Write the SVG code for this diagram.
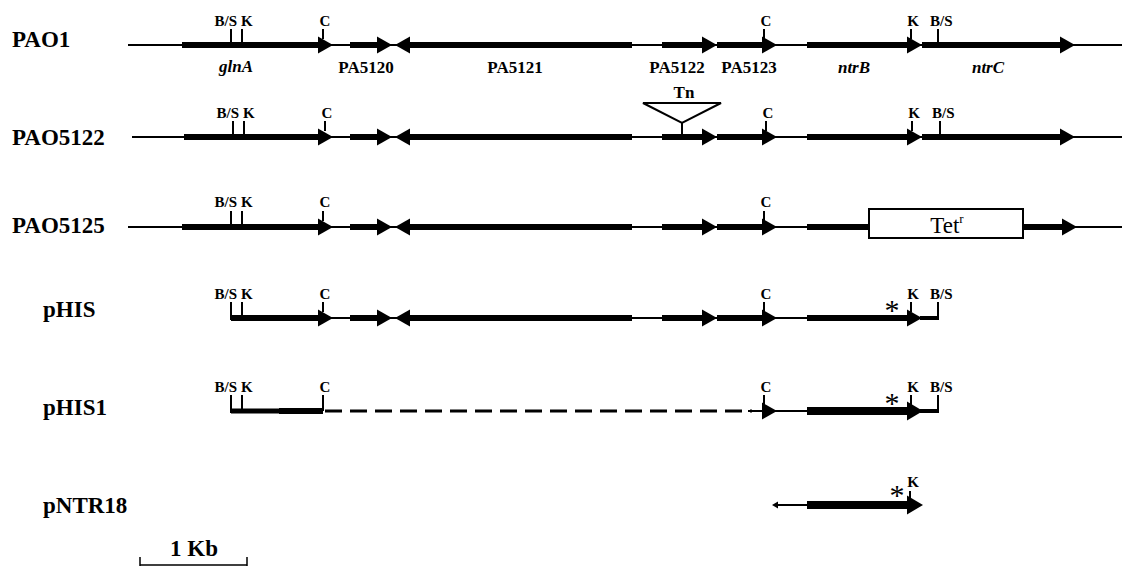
<svg xmlns="http://www.w3.org/2000/svg" xmlns:xlink="http://www.w3.org/1999/xlink" width="1122" height="566" viewBox="0 0 1122 566" font-family="Liberation Serif, Times New Roman, serif">
  <style>
    .thin { stroke: #000; stroke-width: 2; fill: none; }
    .thick { stroke: #000; stroke-width: 6; fill: none; }
    .heavy { stroke: #000; stroke-width: 8; fill: none; }
    .tick { stroke: #000; stroke-width: 2; fill: none; }
    .stub { stroke: #000; stroke-width: 4; fill: none; }
    .mid { stroke: #000; stroke-width: 5; fill: none; }
    .bar { stroke: #000; stroke-width: 1.5; fill: none; }
    .dash { stroke: #000; stroke-width: 3; stroke-dasharray: 17 8; fill: none; }
    .head { fill: #000; stroke: none; }
    .name { font-weight: bold; font-size: 23px; fill: #000; }
    .site { font-weight: bold; font-size: 15px; fill: #000; }
    .gene { font-weight: bold; font-size: 17px; fill: #000; text-anchor: middle; }
    .ital { font-style: italic; }
    .star { font-size: 30px; fill: #000; text-anchor: middle; }
    .tet { font-size: 23px; fill: #000; text-anchor: middle; }
  </style>
  <defs>
    <!-- arrowheads with the tip at the origin -->
    <path id="ar" class="head" d="M0,0 L-15,-8.5 L-15,8.5 Z"/>
    <path id="al" class="head" d="M0,0 L15,-8.5 L15,8.5 Z"/>
    <path id="arBig" class="head" d="M0,0 L-16,-9.5 L-16,9.5 Z"/>
  </defs>

  <rect width="1122" height="566" fill="#fff"/>

  <!-- strain / plasmid names -->
  <g id="names">
    <text class="name" x="12" y="47">PAO1</text>
    <text class="name" x="12" y="145">PAO5122</text>
    <text class="name" x="12" y="233">PAO5125</text>
    <text class="name" x="43" y="317">pHIS</text>
    <text class="name" x="43" y="415">pHIS1</text>
    <text class="name" x="43" y="513">pNTR18</text>
  </g>

  <!-- wild-type chromosome -->
  <g id="PAO1" transform="translate(0,45)">
    <line class="thin" x1="128" y1="0" x2="1122" y2="0"/>
    <line class="thick" x1="182" y1="0" x2="320" y2="0"/><use xlink:href="#ar" x="333" y="0"/>
    <line class="thick" x1="350" y1="0" x2="379" y2="0"/><use xlink:href="#ar" x="392" y="0"/>
    <use xlink:href="#al" x="395" y="0"/><line class="thick" x1="408" y1="0" x2="632" y2="0"/>
    <line class="thick" x1="662" y1="0" x2="704" y2="0"/><use xlink:href="#ar" x="717" y="0"/>
    <line class="thick" x1="717" y1="0" x2="764" y2="0"/><use xlink:href="#ar" x="777" y="0"/>
    <line class="thick" x1="807" y1="0" x2="909" y2="0"/><use xlink:href="#ar" x="922" y="0"/>
    <line class="thick" x1="922" y1="0" x2="1062" y2="0"/><use xlink:href="#ar" x="1075" y="0"/>
    <line class="tick" x1="231" y1="-16" x2="231" y2="0"/>
    <line class="tick" x1="242" y1="-16" x2="242" y2="0"/>
    <line class="tick" x1="323" y1="-16" x2="323" y2="-6"/>
    <line class="tick" x1="764" y1="-16" x2="764" y2="-6"/>
    <line class="tick" x1="911" y1="-16" x2="911" y2="-6"/>
    <line class="tick" x1="938" y1="-16" x2="938" y2="0"/>
    <text class="site" x="237" y="-19" text-anchor="end">B/S</text>
    <text class="site" x="241" y="-19">K</text>
    <text class="site" x="325" y="-19" text-anchor="middle">C</text>
    <text class="site" x="766" y="-19" text-anchor="middle">C</text>
    <text class="site" x="913" y="-19" text-anchor="middle">K</text>
    <text class="site" x="930" y="-19">B/S</text>
    <text class="gene ital" x="236" y="27">glnA</text>
    <text class="gene" x="366" y="28">PA5120</text>
    <text class="gene" x="515" y="28">PA5121</text>
    <text class="gene" x="677" y="28">PA5122</text>
    <text class="gene" x="749" y="28">PA5123</text>
    <text class="gene ital" x="854" y="28">ntrB</text>
    <text class="gene ital" x="988" y="28">ntrC</text>
  </g>

  <!-- transposon insertion in PA5122 -->
  <g id="PAO5122" transform="translate(0,137)">
    <line class="thin" x1="132" y1="0" x2="1122" y2="0"/>
    <line class="thick" x1="184" y1="0" x2="320" y2="0"/><use xlink:href="#ar" x="333" y="0"/>
    <line class="thick" x1="350" y1="0" x2="379" y2="0"/><use xlink:href="#ar" x="392" y="0"/>
    <use xlink:href="#al" x="395" y="0"/><line class="thick" x1="408" y1="0" x2="632" y2="0"/>
    <line class="thick" x1="662" y1="0" x2="704" y2="0"/><use xlink:href="#ar" x="717" y="0"/>
    <line class="thick" x1="717" y1="0" x2="764" y2="0"/><use xlink:href="#ar" x="777" y="0"/>
    <line class="thick" x1="807" y1="0" x2="909" y2="0"/><use xlink:href="#ar" x="922" y="0"/>
    <line class="thick" x1="922" y1="0" x2="1062" y2="0"/><use xlink:href="#ar" x="1075" y="0"/>
    <line class="tick" x1="233" y1="-16" x2="233" y2="0"/>
    <line class="tick" x1="244" y1="-16" x2="244" y2="0"/>
    <line class="tick" x1="325" y1="-16" x2="325" y2="-6"/>
    <line class="tick" x1="766" y1="-16" x2="766" y2="-6"/>
    <line class="tick" x1="912" y1="-16" x2="912" y2="-6"/>
    <line class="tick" x1="940" y1="-16" x2="940" y2="0"/>
    <text class="site" x="239" y="-19" text-anchor="end">B/S</text>
    <text class="site" x="243" y="-19">K</text>
    <text class="site" x="327" y="-19" text-anchor="middle">C</text>
    <text class="site" x="768" y="-19" text-anchor="middle">C</text>
    <text class="site" x="914" y="-19" text-anchor="middle">K</text>
    <text class="site" x="932" y="-19">B/S</text>
    <path class="tick" d="M643,-34 L721,-34 L682,-14 Z M682,-14 L682,0"/>
    <text class="gene" x="684" y="-39">Tn</text>
  </g>

  <!-- tetracycline cassette in ntrB-ntrC -->
  <g id="PAO5125" transform="translate(0,227)">
    <line class="thin" x1="128" y1="0" x2="1122" y2="0"/>
    <line class="thick" x1="182" y1="0" x2="320" y2="0"/><use xlink:href="#ar" x="333" y="0"/>
    <line class="thick" x1="350" y1="0" x2="379" y2="0"/><use xlink:href="#ar" x="392" y="0"/>
    <use xlink:href="#al" x="395" y="0"/><line class="thick" x1="408" y1="0" x2="632" y2="0"/>
    <line class="thick" x1="662" y1="0" x2="704" y2="0"/><use xlink:href="#ar" x="717" y="0"/>
    <line class="thick" x1="717" y1="0" x2="764" y2="0"/><use xlink:href="#ar" x="777" y="0"/>
    <line class="thick" x1="807" y1="0" x2="870" y2="0"/>
    <line class="thick" x1="1022" y1="0" x2="1064" y2="0"/><use xlink:href="#ar" x="1077" y="0"/>
    <rect x="869" y="-18" width="154" height="29" fill="#fff" stroke="#000" stroke-width="2"/>
    <text class="tet" x="947" y="6">Tet<tspan font-size="13" dy="-10">r</tspan></text>
    <line class="tick" x1="231" y1="-16" x2="231" y2="0"/>
    <line class="tick" x1="242" y1="-16" x2="242" y2="0"/>
    <line class="tick" x1="323" y1="-16" x2="323" y2="-6"/>
    <line class="tick" x1="764" y1="-16" x2="764" y2="-6"/>
    <text class="site" x="237" y="-20" text-anchor="end">B/S</text>
    <text class="site" x="241" y="-20">K</text>
    <text class="site" x="325" y="-20" text-anchor="middle">C</text>
    <text class="site" x="766" y="-20" text-anchor="middle">C</text>
  </g>

  <!-- complementing fragment -->
  <g id="pHIS" transform="translate(0,318)">
    <line class="thin" x1="231" y1="0" x2="938" y2="0"/>
    <line class="thick" x1="231" y1="0" x2="320" y2="0"/><use xlink:href="#ar" x="333" y="0"/>
    <line class="thick" x1="350" y1="0" x2="379" y2="0"/><use xlink:href="#ar" x="392" y="0"/>
    <use xlink:href="#al" x="395" y="0"/><line class="thick" x1="408" y1="0" x2="632" y2="0"/>
    <line class="thick" x1="662" y1="0" x2="704" y2="0"/><use xlink:href="#ar" x="717" y="0"/>
    <line class="thick" x1="717" y1="0" x2="764" y2="0"/><use xlink:href="#ar" x="777" y="0"/>
    <line class="thick" x1="807" y1="0" x2="909" y2="0"/><use xlink:href="#ar" x="922" y="0"/>
    <line class="stub" x1="920" y1="0" x2="939" y2="0"/>
    <line class="tick" x1="231" y1="-16" x2="231" y2="2"/>
    <line class="tick" x1="242" y1="-16" x2="242" y2="0"/>
    <line class="tick" x1="323" y1="-16" x2="323" y2="-6"/>
    <line class="tick" x1="764" y1="-16" x2="764" y2="-6"/>
    <line class="tick" x1="911" y1="-16" x2="911" y2="-6"/>
    <line class="tick" x1="938" y1="-16" x2="938" y2="2"/>
    <text class="site" x="237" y="-19" text-anchor="end">B/S</text>
    <text class="site" x="241" y="-19">K</text>
    <text class="site" x="325" y="-19" text-anchor="middle">C</text>
    <text class="site" x="766" y="-19" text-anchor="middle">C</text>
    <text class="site" x="913" y="-19" text-anchor="middle">K</text>
    <text class="site" x="930" y="-19">B/S</text>
    <text class="star" x="892" y="2">*</text>
  </g>

  <!-- deletion derivative -->
  <g id="pHIS1" transform="translate(0,411)">
    <line class="mid" x1="231" y1="0" x2="280" y2="0"/>
    <line class="thick" x1="279" y1="0" x2="323" y2="0"/>
    <line class="dash" x1="325" y1="0" x2="752" y2="0"/>
    <line class="thin" x1="748" y1="0" x2="807" y2="0"/><use xlink:href="#ar" x="777" y="0"/>
    <line class="heavy" x1="807" y1="0" x2="908" y2="0"/><use xlink:href="#arBig" x="923" y="0"/>
    <line class="stub" x1="920" y1="0" x2="939" y2="0"/>
    <line class="tick" x1="231" y1="-16" x2="231" y2="2"/>
    <line class="tick" x1="242" y1="-16" x2="242" y2="0"/>
    <line class="tick" x1="323" y1="-16" x2="323" y2="0"/>
    <line class="tick" x1="764" y1="-16" x2="764" y2="-6"/>
    <line class="tick" x1="911" y1="-16" x2="911" y2="-6"/>
    <line class="tick" x1="938" y1="-16" x2="938" y2="2"/>
    <text class="site" x="237" y="-19" text-anchor="end">B/S</text>
    <text class="site" x="241" y="-19">K</text>
    <text class="site" x="325" y="-19" text-anchor="middle">C</text>
    <text class="site" x="766" y="-19" text-anchor="middle">C</text>
    <text class="site" x="913" y="-19" text-anchor="middle">K</text>
    <text class="site" x="930" y="-19">B/S</text>
    <text class="star" x="892" y="2">*</text>
  </g>

  <!-- ntrB fragment -->
  <g id="pNTR18" transform="translate(0,505)">
    <path class="head" d="M772,0 L778,-3.5 L778,3.5 Z"/>
    <line class="thin" x1="775" y1="0" x2="808" y2="0"/>
    <line class="heavy" x1="807" y1="0" x2="908" y2="0"/><use xlink:href="#arBig" x="923" y="0"/>
    <line class="tick" x1="910" y1="-14" x2="910" y2="-6"/>
    <text class="site" x="913" y="-18" text-anchor="middle">K</text>
    <text class="star" x="897" y="0">*</text>
  </g>

  <!-- scale bar -->
  <g id="scale">
    <text class="name" x="194" y="556" text-anchor="middle">1 Kb</text>
    <path class="bar" d="M140,557 L140,566 M247,557 L247,566 M140,565 L247,565"/>
  </g>
</svg>
